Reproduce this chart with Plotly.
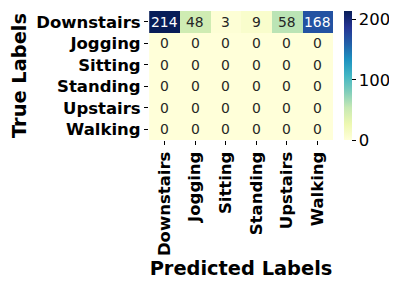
import plotly.graph_objects as go

pred_labels = ["Downstairs", "Jogging", "Sitting", "Standing", "Upstairs", "Walking"]
true_labels = ["Downstairs", "Jogging", "Sitting", "Standing", "Upstairs", "Walking"]
row_downstairs = [214, 48, 3, 9, 58, 168]
row_jogging = [0, 0, 0, 0, 0, 0]
row_sitting = [0, 0, 0, 0, 0, 0]
row_standing = [0, 0, 0, 0, 0, 0]
row_upstairs = [0, 0, 0, 0, 0, 0]
row_walking = [0, 0, 0, 0, 0, 0]
z = [row_downstairs, row_jogging, row_sitting, row_standing, row_upstairs, row_walking]

ylgnbu = ["#ffffd9", "#edf8b1", "#c7e9b4", "#7fcdbb", "#41b6c4", "#1d91c0", "#225ea8", "#253494", "#081d58"]
cs = [[i / (len(ylgnbu) - 1), c] for i, c in enumerate(ylgnbu)]
zmax = max(max(r) for r in z)

W, H = 389, 282
L, R, T, B = 141, 64, 3, 150
plot_w = W - L - R

fig = go.Figure(go.Heatmap(
    z=z, x=pred_labels, y=true_labels, colorscale=cs, zmin=0, zmax=zmax,
    xgap=0, ygap=0,
    colorbar=dict(thickness=8, len=1, lenmode="fraction", x=1 + 11 / plot_w, xpad=0, ypad=0,
                  xanchor="left", y=1, yanchor="top", yref="paper", outlinewidth=0,
                  tickvals=[0, 100, 200], ticks="outside", ticklen=4, tickcolor="black",
                  tickfont=dict(family="DejaVu Sans", size=16.5, color="black")),
    hoverinfo="skip",
))

annotations = []
for i, t in enumerate(true_labels):
    for j, p in enumerate(pred_labels):
        v = z[i][j]
        annotations.append(dict(x=p, y=t, text=str(v), showarrow=False,
                                font=dict(family="DejaVu Sans", size=13.9,
                                          color="white" if v > 0.6 * zmax else "#262626")))

fig.update_layout(
    width=W, height=H,
    margin=dict(l=L, r=R, t=T, b=B),
    paper_bgcolor="white", plot_bgcolor="white",
    annotations=annotations,
    xaxis=dict(tickangle=-90, ticks="outside", ticklen=4, tickcolor="black", showgrid=False,
               zeroline=False, automargin=False,
               tickfont=dict(family="DejaVu Sans", size=16.5, color="black", weight="bold"),
               title=dict(text="<b>Predicted Labels</b>", standoff=6,
                          font=dict(family="DejaVu Sans", size=19.4, color="black"))),
    yaxis=dict(autorange="reversed", ticks="outside", ticklen=4, tickcolor="black", showgrid=False,
               zeroline=False, automargin=False,
               tickfont=dict(family="DejaVu Sans", size=16.5, color="black", weight="bold"),
               title=dict(text="<b>True Labels</b>", standoff=8,
                          font=dict(family="DejaVu Sans", size=19.4, color="black"))),
)

fig.write_html("out.html")
